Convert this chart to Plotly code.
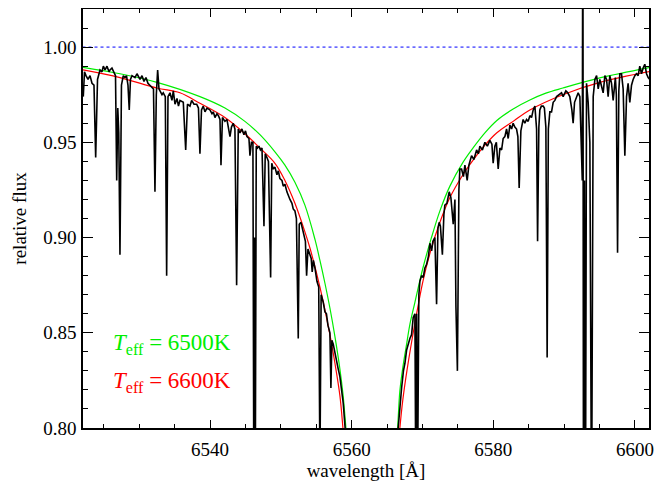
import plotly.graph_objects as go

# Observed spectrum (wavelength in Angstrom, relative flux)
obs_wl = [
6522.11,6522.28,6522.49,6522.78,6523.06,6523.34,6523.62,6523.86,6524.12,6524.33,
6524.47,6524.75,6524.94,6525.18,6525.46,6525.74,6525.88,6526.16,6526.45,6526.66,
6526.83,6526.98,6527.12,6527.29,6527.50,6527.76,6528.00,6528.21,6528.42,6528.60,
6528.77,6528.99,6529.41,6529.69,6530.12,6530.40,6530.68,6530.96,6531.24,6531.53,
6531.81,6532.02,6532.23,6532.42,6532.61,6532.80,6532.94,6533.22,6533.40,6533.69,
6533.88,6534.07,6534.35,6534.63,6534.82,6535.06,6535.34,6535.55,6535.76,6536.23,
6536.57,6536.82,6537.17,6537.41,6537.74,6538.12,6538.37,6538.58,6538.80,6539.05,
6539.29,6539.57,6539.99,6540.28,6540.46,6540.70,6540.98,6541.19,6541.41,6541.55,
6541.76,6542.11,6542.39,6542.82,6543.03,6543.28,6543.52,6543.76,6543.99,6544.23,
6544.51,6544.79,6545.01,6545.22,6545.50,6545.64,6545.85,6546.06,6546.18,6546.29,
6546.40,6546.53,6546.70,6546.91,6547.12,6547.34,6547.62,6547.80,6548.04,6548.25,
6548.56,6548.72,6548.93,6549.17,6549.45,6549.64,6549.87,6550.16,6550.34,6550.58,
6550.86,6551.05,6551.29,6551.57,6551.75,6551.99,6552.20,6552.46,6552.60,6552.84,
6553.02,6553.26,6553.47,6553.64,6553.83,6554.11,6554.29,6554.43,6554.60,6554.82,
6555.10,6555.35,6555.52,6555.69,6555.99,6556.23,6556.44,6556.65,6556.93,6557.07,
6557.21,6557.40,6557.64,6557.88,6558.10,6558.34,6558.58,6558.81,6559.12,6559.47,
6560.46,6561.59,6562.86,6564.27,6565.54,6566.25,6566.57,6566.81,6567.05,6567.31,
6567.52,6567.76,6568.01,6568.22,6568.46,6568.69,6568.93,6569.04,6569.18,6569.32,
6569.49,6569.63,6569.87,6570.10,6570.34,6570.58,6570.83,6571.05,6571.29,6571.47,
6571.75,6571.99,6572.18,6572.36,6572.53,6572.81,6573.02,6573.16,6573.45,6573.77,
6574.01,6574.34,6574.58,6574.72,6574.93,6575.14,6575.28,6575.52,6575.78,6575.99,
6576.31,6576.55,6576.93,6577.26,6577.64,6577.89,6578.10,6578.46,6578.81,6579.16,
6579.51,6579.80,6579.98,6580.22,6580.43,6580.69,6580.93,6581.17,6581.39,6581.63,
6581.87,6582.10,6582.34,6582.58,6582.80,6583.04,6583.28,6583.47,6583.65,6583.89,
6584.21,6584.45,6584.69,6584.92,6585.16,6585.40,6585.63,6585.87,6586.11,6586.25,
6586.43,6586.57,6586.78,6587.04,6587.21,6587.42,6587.60,6587.77,6587.98,6588.22,
6588.45,6588.69,6588.93,6589.25,6589.63,6589.86,6590.24,6590.52,6590.80,6591.09,
6591.27,6591.47,6591.75,6591.98,6592.22,6592.46,6592.56,6592.64,6592.73,6592.87,
6593.01,6593.16,6593.39,6593.63,6593.87,6594.10,6594.34,6594.58,6594.81,6595.04,
6595.28,6595.51,6595.75,6595.99,6596.21,6596.45,6596.69,6596.92,6597.23,6597.37,
6597.54,6597.72,6597.86,6598.10,6598.33,6598.57,6598.81,6599.03,6599.27,6599.51,
6599.74,6599.98,6600.22,6600.45,6600.68,6600.92,6601.15,6601.39,6601.63,6601.86,
6602.10]
obs_flux = [
0.974,0.987,0.985,0.983,0.985,0.981,0.980,0.942,0.983,0.986,
0.988,0.987,0.990,0.988,0.990,0.987,0.988,0.989,0.987,0.985,
0.930,0.968,0.955,0.891,0.980,0.985,0.984,0.985,0.980,0.967,
0.983,0.985,0.984,0.986,0.983,0.985,0.982,0.984,0.981,0.980,
0.979,0.978,0.924,0.975,0.988,0.978,0.977,0.975,0.976,0.974,
0.880,0.974,0.976,0.972,0.977,0.970,0.973,0.969,0.972,0.971,
0.946,0.970,0.969,0.972,0.970,0.970,0.968,0.944,0.967,0.969,
0.966,0.968,0.967,0.965,0.966,0.963,0.965,0.964,0.962,0.938,
0.963,0.961,0.962,0.953,0.958,0.960,0.957,0.875,0.957,0.955,
0.957,0.954,0.956,0.953,0.952,0.943,0.950,0.950,0.780,0.900,
0.780,0.948,0.947,0.948,0.946,0.947,0.906,0.944,0.942,0.940,
0.879,0.939,0.936,0.937,0.933,0.935,0.931,0.930,0.927,0.928,
0.924,0.922,0.920,0.918,0.915,0.914,0.910,0.847,0.907,0.908,
0.905,0.900,0.898,0.880,0.894,0.891,0.889,0.882,0.888,0.884,
0.877,0.874,0.780,0.870,0.866,0.861,0.860,0.854,0.850,0.821,
0.846,0.844,0.839,0.835,0.831,0.827,0.819,0.813,0.798,0.780,
0.750,0.720,0.700,0.720,0.760,0.785,0.800,0.812,0.821,0.830,
0.834,0.841,0.845,0.847,0.849,0.858,0.860,0.780,0.860,0.780,
0.870,0.877,0.880,0.879,0.884,0.886,0.890,0.897,0.893,0.898,
0.900,0.865,0.905,0.908,0.906,0.891,0.912,0.917,0.918,0.924,
0.921,0.907,0.920,0.864,0.830,0.925,0.936,0.936,0.932,0.938,
0.930,0.938,0.943,0.941,0.946,0.944,0.948,0.946,0.950,0.948,
0.951,0.949,0.939,0.948,0.950,0.936,0.947,0.946,0.952,0.953,
0.957,0.952,0.959,0.957,0.960,0.958,0.957,0.953,0.926,0.956,
0.962,0.960,0.962,0.961,0.964,0.963,0.967,0.969,0.957,0.898,
0.958,0.967,0.969,0.969,0.968,0.958,0.837,0.957,0.966,0.966,
0.971,0.972,0.974,0.975,0.976,0.974,0.977,0.976,0.974,0.967,
0.960,0.971,0.974,0.976,0.974,0.943,0.930,1.100,0.750,0.930,
0.750,0.981,0.971,0.950,0.750,0.974,0.983,0.985,0.978,0.983,
0.979,0.976,0.985,0.983,0.974,0.985,0.981,0.972,0.984,0.975,
0.892,0.977,0.986,0.986,0.978,0.943,0.974,0.981,0.971,0.980,
0.983,0.985,0.986,0.985,0.990,0.986,0.989,0.991,0.986,0.984,
0.983]

# Model profiles: Teff = 6500 K (green) and Teff = 6600 K (red)
g_wl = [6522.07,6527.29,6532.51,6538.58,6542.11,6544.93,6547.05,6549.17,6550.58,6551.99,
        6553.40,6554.82,6555.52,6556.23,6556.93,6557.64,6558.34,6558.77,6559.19,6559.50,
        6566.20,6566.49,6566.81,6567.23,6567.80,6568.22,6568.93,6570.06,6571.19,6572.46,
        6573.87,6575.71,6577.12,6578.81,6580.50,6582.80,6585.16,6587.42,6589.82,6595.04,6602.10]
g_flux = [0.9894,0.9860,0.9815,0.9740,0.9680,0.9610,0.9540,0.9450,0.9380,0.9290,
          0.9170,0.8990,0.8880,0.8760,0.8630,0.8480,0.8310,0.8180,0.8000,0.7850,
          0.785,0.800,0.8196,0.832,0.845,0.8544,0.866,0.884,0.899,0.914,
          0.927,0.9395,0.947,0.955,0.9615,0.9675,0.9722,0.9758,0.9785,0.9838,0.9893]
r_wl = [6522.07,6527.29,6532.51,6535.76,6538.58,6542.11,6544.93,6547.05,6549.17,6550.58,
        6551.99,6553.40,6554.11,6555.52,6556.93,6557.64,6558.34,6558.77,6559.10,
        6566.50,6566.81,6567.23,6567.80,6568.93,6570.06,6571.19,6572.46,6573.87,6575.71,
        6577.12,6578.81,6580.50,6582.80,6585.16,6589.82,6595.04,6602.10]
r_flux = [0.988,0.984,0.9785,0.976,0.9705,0.963,0.9545,0.947,0.939,0.930,
          0.918,0.903,0.8945,0.874,0.849,0.834,0.817,0.800,0.785,
          0.785,0.800,0.815,0.830,0.855,0.877,0.8935,0.908,0.921,0.933,
          0.9405,0.9485,0.955,0.961,0.967,0.975,0.9815,0.9872]

cont_wl = [6522.0, 6602.0]
cont_flux = [1.0, 1.0]

x_ticks = [6540, 6560, 6580, 6600]
y_ticks = [0.80, 0.85, 0.90, 0.95, 1.00]
labels = ["<i>T</i><sub>eff</sub> = 6500K", "<i>T</i><sub>eff</sub> = 6600K"]

FONT = "Liberation Serif, Times New Roman, serif"

fig = go.Figure()
fig.add_trace(go.Scatter(x=cont_wl, y=cont_flux, mode="lines",
                         line=dict(color="#0000ff", width=1, dash="dot")))
fig.add_trace(go.Scatter(x=g_wl, y=g_flux, mode="lines",
                         line=dict(color="#00ee00", width=1.2, shape="spline", smoothing=1)))
fig.add_trace(go.Scatter(x=r_wl, y=r_flux, mode="lines",
                         line=dict(color="#ff0000", width=1.2, shape="spline", smoothing=1)))
fig.add_trace(go.Scatter(x=obs_wl, y=obs_flux, mode="lines", line=dict(color="black", width=1.6)))

fig.add_annotation(x=0.05, y=0.20, xref="paper", yref="paper", text=labels[0],
                   showarrow=False, xanchor="left", yanchor="middle",
                   font=dict(family=FONT, size=23, color="#00ee00"))
fig.add_annotation(x=0.05, y=0.11, xref="paper", yref="paper", text=labels[1],
                   showarrow=False, xanchor="left", yanchor="middle",
                   font=dict(family=FONT, size=23, color="#ff0000"))

# the page adds an 8px body margin, so the figure is sized to the visible area
fig.update_layout(
    width=663, height=475,
    margin=dict(l=75, r=22, t=1, b=55, autoexpand=False),
    paper_bgcolor="white", plot_bgcolor="white",
    showlegend=False,
    font=dict(family=FONT, size=19, color="black"),
)
fig.update_xaxes(range=[6522.07, 6601.98], tickvals=x_ticks, ticks="inside", ticklen=8,
                 tickcolor="black", showline=True, linecolor="black", linewidth=1.5,
                 mirror="allticks", showgrid=False, zeroline=False,
                 minor=dict(ticks="inside", ticklen=4, dtick=5, tick0=6520, tickcolor="black", showgrid=False),
                 ticklabelstandoff=3,
                 title=dict(text="wavelength [Å]", standoff=2, font=dict(size=19)))
fig.update_yaxes(range=[0.80, 1.02], tickvals=y_ticks, tickformat=".2f", ticks="inside", ticklen=10,
                 tickcolor="black", showline=True, linecolor="black", linewidth=1.5,
                 mirror="allticks", showgrid=False, zeroline=False,
                 minor=dict(ticks="inside", ticklen=5, dtick=0.01, tick0=0.80, tickcolor="black", showgrid=False),
                 ticklabelstandoff=1,
                 title=dict(text="relative flux", standoff=12, font=dict(size=19)))

fig.write_html("out.html")
